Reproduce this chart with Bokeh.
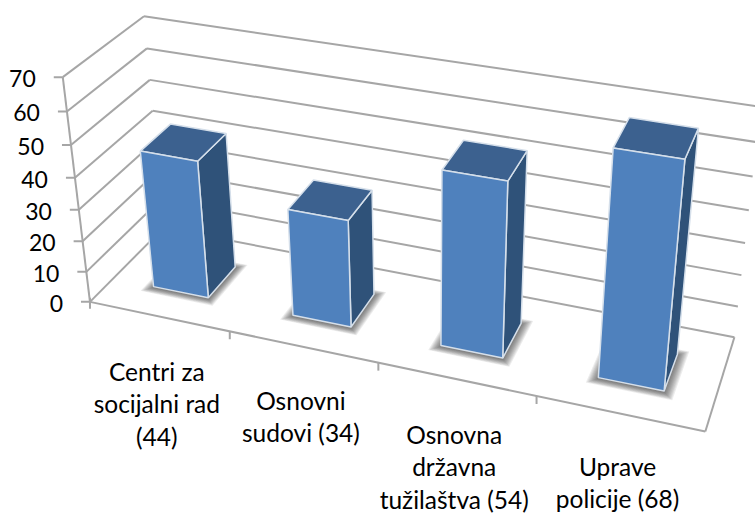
import numpy as np
from bokeh.plotting import figure
from bokeh.core.properties import value
from bokeh.embed import file_html
from bokeh.resources import INLINE

categories = [["Centri za", "socijalni rad", "(44)"], ["Osnovni", "sudovi (34)"],
              ["Osnovna", "državna", "tužilaštva (54)"], ["Uprave", "policije (68)"]]
values = [44, 34, 54, 68]
ticks = [0, 10, 20, 30, 40, 50, 60, 70]
YMAX = 70
GAP = 0.3
LABEL_FIRST_BASELINE = [379, 408, 442, 474]
LINE_GAP = 32.3
TEXT_SHIFT = -8

# perspective camera: world (u along categories, value/YMAX, w depth) -> page
P = np.array([[532.159709, -31.88679, 87.143183, 89.476493],
              [78.800913, -230.46999, -54.987391, 301.370558],
              [-0.118037, -0.075156, 0.083806, 1.0]])

def proj(u, v, w):
    q = P @ np.array([u, v, w, 1.0])
    return q[0]/q[2], q[1]/q[2]

p = figure(width=755, height=513, x_range=(0,755), y_range=(513,0), output_backend="svg",
           toolbar_location=None, min_border=0, outline_line_color=None)
p.axis.visible = False
p.grid.visible = False
p.background_fill_color = "white"
GREY = "#A6A6A6"

def seg(a, b, w=2):
    p.line([a[0],b[0]],[a[1],b[1]], line_color=GREY, line_width=w)

for t in ticks:
    v = t/YMAX
    fl, bl, br = proj(0,v,0), proj(0,v,1), proj(1,v,1)
    seg(fl, bl); seg(bl, br)
    seg((fl[0]-9, fl[1]), fl)
seg(proj(0,0,0), proj(0,1,0))
seg(proj(0,0,0), proj(1,0,0))
seg(proj(1,0,0), proj(1,0,1))
for i in range(1, 4):
    q = proj(i/4,0,0)
    seg(q, (q[0], q[1]+8))
a0 = proj(0,0,0)
seg((a0[0], a0[1]-4), (a0[0], a0[1]+7))

# shadows on the floor
for i, val in enumerate(values):
    a, b = (i+GAP)/4, (i+1-GAP)/4
    for d in range(9, 0, -1):
        du, dw = d*0.0017, d*0.007
        pts = [proj(a-du,0,GAP-dw), proj(b+du,0,GAP-dw), proj(b+du,0,1-GAP+dw), proj(a-du,0,1-GAP+dw)]
        p.patch([q[0] for q in pts],[q[1]+1 for q in pts], fill_color="#202020", fill_alpha=0.085, line_color=None)

EDGE = "#D5DFEA"
for i, val in enumerate(values):
    h = val/YMAX
    a, b = (i+GAP)/4, (i+1-GAP)/4
    f, k = GAP, 1-GAP
    faces = [([(b,0,f),(b,0,k),(b,h,k),(b,h,f)], "#2F5279"),
             ([(a,h,f),(b,h,f),(b,h,k),(a,h,k)], "#3C618F"),
             ([(a,0,f),(b,0,f),(b,h,f),(a,h,f)], "#4F81BD")]
    for corners, col in faces:
        pts = [proj(*c) for c in corners]
        p.patch([q[0] for q in pts],[q[1] for q in pts], fill_color=col, line_color=EDGE, line_width=1.5)

FONT = value("Lato")
for t in ticks:
    q = proj(0,t/YMAX,0)
    p.text([q[0]-27],[q[1]+9.5+TEXT_SHIFT],text=[str(t)],text_font=FONT,text_font_size="23px",
           text_color="#000000",text_align="right",text_baseline="alphabetic")
for i, lines in enumerate(categories):
    q = proj((i+.5)/4,0,0)
    for j, s in enumerate(lines):
        p.text([q[0]-2],[LABEL_FIRST_BASELINE[i]+j*LINE_GAP+TEXT_SHIFT],text=[s],text_font=FONT,text_font_size="24.5px",
               text_color="#000000",text_align="center",text_baseline="alphabetic")

open("out.html","w").write(file_html(p, INLINE))
